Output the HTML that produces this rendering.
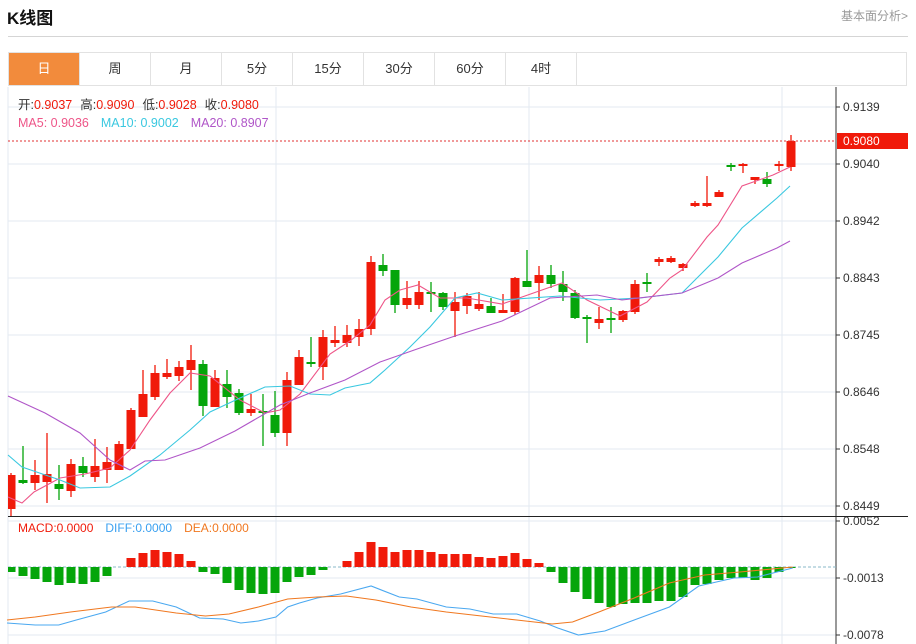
<!DOCTYPE html>
<html><head><meta charset="utf-8"><style>
body{margin:0;background:#fff;font-family:"Liberation Sans","Noto Sans CJK SC",sans-serif;}
.wrap{position:relative;width:916px;height:644px;overflow:hidden}
.tabs{position:absolute;left:8px;top:52px;width:899px;height:34px;border:1px solid #e2e2e2;box-sizing:border-box;display:flex}
.tabs div{width:70px;border-right:1px solid #e2e2e2;text-align:center;line-height:32px;font-size:13px;color:#333}
.tabs div.on{background:#f28b3c;color:#fff}
</style></head><body><div class="wrap">
<div style="position:absolute;left:7px;top:4px;font-size:17px;font-weight:bold;color:#111">K线图</div>
<div style="position:absolute;right:8px;top:7px;font-size:12px;color:#999">基本面分析&gt;</div>
<div style="position:absolute;left:8px;top:36px;width:900px;height:1px;background:#d5d5d5"></div>
<div class="tabs"><div class="on">日</div><div>周</div><div>月</div><div>5分</div><div>15分</div><div>30分</div><div>60分</div><div>4时</div></div>
<svg id="s" width="916" height="644" style="position:absolute;left:0;top:0"></svg>
</div>
<script>
var s=document.getElementById('s'),h='';
function L(x1,y1,x2,y2,c,w,d){h+='<line x1="'+x1+'" y1="'+y1+'" x2="'+x2+'" y2="'+y2+'" stroke="'+c+'" stroke-width="'+(w||1)+'"'+(d?' stroke-dasharray="'+d+'"':'')+'/>';}
function T(x,y,t,c,sz){h+='<text x="'+x+'" y="'+y+'" fill="'+c+'" font-size="'+(sz||12)+'" font-family="Liberation Sans,Noto Sans CJK SC,sans-serif">'+t+'</text>';}
function P(pts,c){h+='<polyline fill="none" stroke="'+c+'" stroke-width="1.1" points="'+pts.map(function(p){return p[0]+','+p[1]}).join(' ')+'"/>';}
// grids
var g=[[107,'0.9139'],[164,'0.9040'],[221,'0.8942'],[278,'0.8843'],[335,'0.8745'],[392,'0.8646'],[449,'0.8548'],[506,'0.8449']];
g.forEach(function(a){L(8,a[0],836,a[0],'#e3eaf2');L(836,a[0],840,a[0],'#333');T(843,a[0]+4,a[1],'#333',12);});
[276,529,782].forEach(function(x){L(x,87,x,644,'#e3eaf2');});
[[521,'0.0052'],[578,'-0.0013'],[635,'-0.0078']].forEach(function(a){L(8,a[0],836,a[0],'#e3eaf2');L(836,a[0],840,a[0],'#333');T(843,a[0]+4,a[1],'#333',12);});
L(8,87,8,644,'#e3eaf2');
L(836,87,836,644,'#333');L(8,516.5,908,516.5,'#222');
// candles
var R='#f01a0a',G='#05a50a';
var d=[['r',475,509,473,516],['g',480,483,446,484],['r',475,483,460,490],['r',474,482,433,503],['g',484,489,465,500],['r',464,491,459,497],['g',466,473,457,477],['r',466,477,439,482],['r',462,470,447,483],['r',444,470,441,470],['r',410,449,408,449],['r',394,417,370,417],['r',373,397,365,400],['r',373,377,359,379],['r',367,376,361,381],['r',360,370,345,390],['g',364,406,360,416],['r',378,407,370,407],['g',384,397,370,408],['g',393,413,389,415],['r',409,413,394,416],['g',411,413,394,446],['g',415,433,391,437],['r',380,433,372,446],['r',357,385,350,385],['g',362,364,337,367],['r',337,367,330,380],['r',340,343,326,347],['r',335,343,325,347],['r',329,337,319,346],['r',262,329,256,335],['g',265,271,254,276],['g',270,305,270,313],['r',298,305,281,309],['r',292,305,281,309],['g',292,294,282,312],['g',293,307,292,310],['r',302,311,292,337],
['r',296,306,293,314],['r',304,309,292,311],['g',306,313,298,313],['r',310,313,294,313],['r',278,312,277,315],['g',281,287,250,287],['r',275,283,266,300],['g',275,284,265,288],['g',284,292,271,301],['g',293,318,290,319],['g',317,319,315,343],['r',319,323,307,329],['g',318,320,307,333],['r',311,320,310,322],['r',284,312,280,314],['g',282,284,273,292],['r',259,262,257,266],['r',258,262,256,263],['r',264,268,263,271],['r',203,206,201,207],['r',203,206,176,207],['r',192,197,190,197],['g',165,167,163,171],['r',164,166,163,173],['r',177,180,177,184],['g',179,184,172,187],['r',164,166,161,171],['r',141,167,135,171]];
d.forEach(function(c,i){var x=11+12*i,col=c[0]=='r'?R:G;L(x,c[3],x,c[4],col,1.3);var x0=Math.max(8,x-4.5);h+='<rect x="'+x0+'" y="'+c[1]+'" width="'+(x+4.5-x0)+'" height="'+Math.max(1.5,c[2]-c[1])+'" fill="'+col+'"/>';});
P([[8,497],[22,503],[34,492],[60,478],[85,474],[110,468],[130,450],[150,420],[170,393],[190,373],[210,376],[240,400],[265,413],[280,410],[300,394],[330,354],[350,341],[370,325],[385,300],[400,290],[418,285],[440,298],[467,298],[502,304],[562,283],[587,300],[620,316],[647,302],[670,278],[682,270],[707,237],[718,225],[742,186],[773,175],[790,167]],'#ee5588');
P([[8,455],[22,467],[60,480],[80,488],[110,487],[130,476],[160,455],[190,430],[210,412],[240,398],[265,387],[290,386],[310,394],[330,395],[345,388],[370,383],[385,370],[410,347],[430,327],[455,298],[477,293],[502,300],[560,296],[600,300],[640,298],[682,293],[718,257],[742,228],[777,198],[790,186]],'#3ac8e0');
P([[8,396],[45,413],[80,433],[110,460],[130,470],[145,461],[165,460],[200,448],[235,431],[280,405],[310,393],[345,380],[380,362],[420,348],[455,336],[502,321],[550,298],[597,295],[622,300],[682,293],[718,278],[742,263],[777,248],[790,241]],'#b056c8');
// price line
L(8,141,836,141,'#e03030',1,'2,2');
h+='<rect x="837" y="133" width="71" height="16" fill="#f01a0a"/>';T(843,145,'0.9080','#fff',12);
// text headers
h+='<text x="18" y="109" font-size="12.5" font-family="Liberation Sans,Noto Sans CJK SC,sans-serif"><tspan fill="#333">开:</tspan><tspan fill="#f01a0a">0.9037</tspan><tspan fill="#333" dx="8">高:</tspan><tspan fill="#f01a0a">0.9090</tspan><tspan fill="#333" dx="8">低:</tspan><tspan fill="#f01a0a">0.9028</tspan><tspan fill="#333" dx="8">收:</tspan><tspan fill="#f01a0a">0.9080</tspan></text>';
h+='<text x="18" y="127" font-size="12.5" font-family="Liberation Sans,sans-serif"><tspan fill="#ee5588">MA5: 0.9036</tspan><tspan fill="#3ac8e0" dx="12">MA10: 0.9002</tspan><tspan fill="#b056c8" dx="12">MA20: 0.8907</tspan></text>';
h+='<text x="18" y="532" font-size="12" font-family="Liberation Sans,sans-serif"><tspan fill="#f01a0a">MACD:0.0000</tspan><tspan fill="#3aa0f0" dx="12">DIFF:0.0000</tspan><tspan fill="#f07820" dx="12">DEA:0.0000</tspan></text>';
// macd
L(8,567,836,567,'#8ab8c8',1,'3,2');
var m=[572,576,579,582,585,583,584,582,576,567,558,553,550,552,554,561,572,574,583,590,593,594,593,582,577,575,570,567,561,552,542,547,552,550,550,552,554,554,554,557,558,556,553,559,563,572,583,592,599,603,607,604,603,603,601,601,597,585,584,580,578,578,580,578,572,568];
m.forEach(function(y,i){var x=11+12*i,col=y<567?R:G;var t=Math.min(y,567),hh=Math.abs(y-567);if(hh<0.5)return;var x0=Math.max(8,x-4.5);h+='<rect x="'+x0+'" y="'+t+'" width="'+(x+4.5-x0)+'" height="'+hh+'" fill="'+col+'"/>';});
function sc(a){return a.map(function(p){return [(p[0]/1.703).toFixed(1),p[1]]});}
P(sc([[12,623],[60,625],[100,625],[130,620],[180,612],[220,601],[260,601],[300,607],[340,618],[380,619],[410,623],[440,621],[470,617],[490,607],[510,603],[540,598],[580,594],[632,586],[680,597],[710,599],[760,607],[800,609],[840,614],[880,614],[920,621],[950,628],[985,635],[1030,631],[1080,620],[1140,607],[1190,586],[1250,578],[1290,577],[1350,568]]),'#4aa8f0');
P(sc([[12,620],[60,617],[120,612],[190,607],[230,607],[300,613],[350,616],[390,614],[440,607],[490,599],[540,597],[590,596],[640,600],[700,607],[760,612],[820,616],[880,620],[940,624],[975,622],[1020,612],[1080,598],[1140,583],[1200,575],[1260,572],[1350,567]]),'#f07820');
s.innerHTML=h;
</script></body></html>
